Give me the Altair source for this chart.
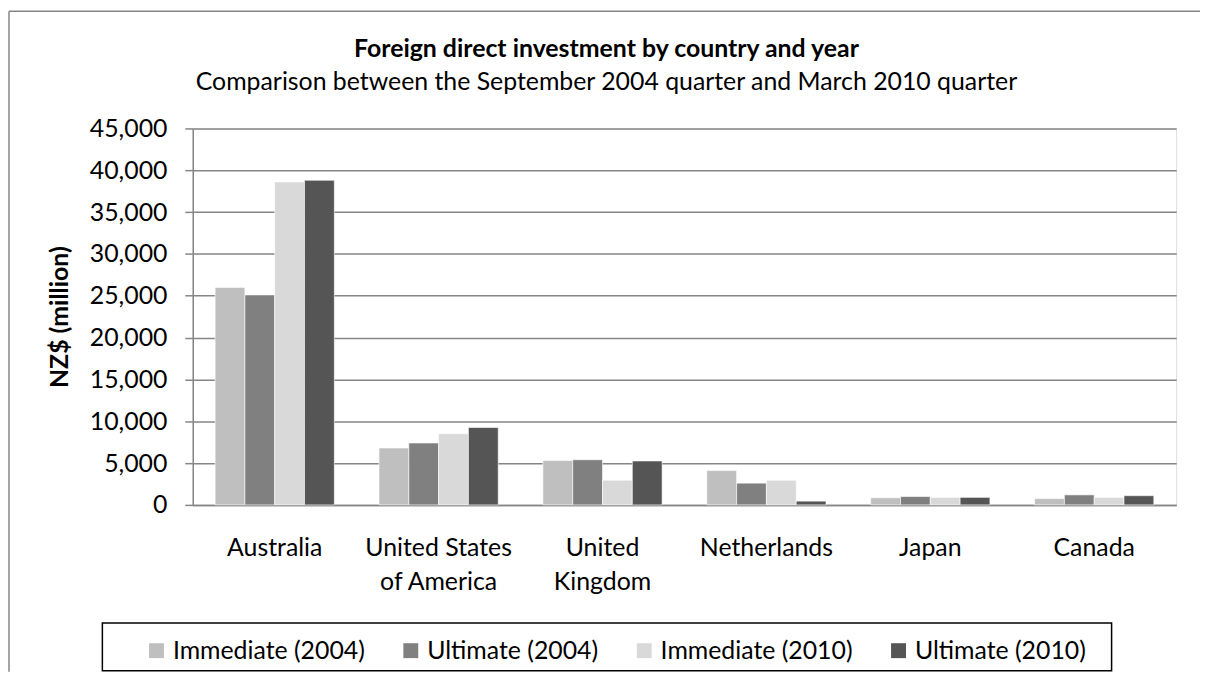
import altair as alt
import pandas as pd

countries = ["Australia", "United States of America", "United Kingdom",
             "Netherlands", "Japan", "Canada"]
series = ["Immediate (2004)", "Ultimate (2004)", "Immediate (2010)", "Ultimate (2010)"]
immediate_2004 = [26000, 6800, 5300, 4100, 850, 750]
ultimate_2004 = [25100, 7400, 5400, 2600, 1000, 1200]
immediate_2010 = [38600, 8500, 2950, 2950, 900, 900]
ultimate_2010 = [38800, 9250, 5250, 450, 900, 1100]
y_ticks = [0, 5000, 10000, 15000, 20000, 25000, 30000, 35000, 40000, 45000]
colors = ["#BFBFBF", "#808080", "#D9D9D9", "#555555"]
title_text = "Foreign direct investment by country and year"
subtitle_text = "Comparison between  the September 2004 quarter and March 2010 quarter"

rows = []
for s, vals in zip(series, [immediate_2004, ultimate_2004, immediate_2010, ultimate_2010]):
    for c, v in zip(countries, vals):
        rows.append({"country": c, "series": s, "value": v})
df = pd.DataFrame(rows)

FONT = "Lato"
GRAY = "#868686"
FS = 25

label_expr = ("datum.value == 'United States of America' ? ['United States', 'of America'] : "
              "datum.value == 'United Kingdom' ? ['United', 'Kingdom'] : datum.value")

bars = alt.Chart(df).mark_bar(stroke="white", strokeWidth=0.6).encode(
    x=alt.X("country:N", sort=countries,
            scale=alt.Scale(paddingInner=0.2727, paddingOuter=0.1364),
            axis=alt.Axis(title=None, labelExpr=label_expr, labelAngle=0,
                          labelFont=FONT, labelFontSize=FS, labelColor="black",
                          labelPadding=31, labelLineHeight=34, labelBaseline="top",
                          labelLimit=400,
                          ticks=False, grid=False, domainColor=GRAY, domainWidth=1.5)),
    xOffset=alt.XOffset("series:N", sort=series,
                        scale=alt.Scale(paddingInner=0, paddingOuter=0)),
    y=alt.Y("value:Q", scale=alt.Scale(domain=[0, 45000], nice=False),
            axis=alt.Axis(values=y_ticks, format=",.0f", title="NZ$ (million)",
                          titleFont=FONT, titleFontSize=FS, titleFontWeight="bold",
                          titleColor="black", titleX=-134, titleY=189.5, titleAngle=-90,
                          titleAlign="center", titleBaseline="middle",
                          labelFont=FONT, labelFontSize=FS, labelColor="black",
                          labelPadding=18, tickSize=8, tickColor=GRAY, tickWidth=1.5,
                          domainColor=GRAY, domainWidth=1.5,
                          grid=True, gridColor=GRAY, gridWidth=1.5)),
    color=alt.Color("series:N", sort=series,
                    scale=alt.Scale(domain=series, range=colors),
                    legend=alt.Legend(title=None, orient="none", legendX=-49, legendY=513,
                                      direction="horizontal", symbolType="square",
                                      symbolSize=225, symbolStrokeWidth=0,
                                      labelFont=FONT, labelFontSize=FS, labelColor="black",
                                      labelOffset=4, columnPadding=33, padding=0,
                                      gridAlign="each", labelLimit=400)),
)

legend_box = alt.Chart(alt.Data(values=[{}])).mark_rect(
    fillOpacity=0, stroke="black", strokeWidth=1.5
).encode(x=alt.value(-91), x2=alt.value(925), y=alt.value(498), y2=alt.value(546))

border_top = alt.Chart(alt.Data(values=[{}])).mark_rule(
    stroke=GRAY, strokeWidth=1.5
).encode(x=alt.value(-185), x2=alt.value(1014), y=alt.value(-118))

border_left = alt.Chart(alt.Data(values=[{}])).mark_rule(
    stroke=GRAY, strokeWidth=1.5
).encode(x=alt.value(-185), y=alt.value(-118), y2=alt.value(547))

title_mark = alt.Chart(alt.Data(values=[{"t": title_text}])).mark_text(
    font=FONT, fontSize=FS, fontWeight="bold", color="black",
    align="center", baseline="middle"
).encode(text="t:N", x=alt.value(416.5), y=alt.value(-80))

subtitle_mark = alt.Chart(alt.Data(values=[{"t": subtitle_text}])).mark_text(
    font=FONT, fontSize=FS, color="black", align="center", baseline="middle"
).encode(text="t:N", x=alt.value(416.5), y=alt.value(-47))

chart = alt.layer(border_top, border_left, bars, legend_box, title_mark, subtitle_mark).properties(
    width=990, height=379,
    autosize=alt.AutoSizeParams(type="none"),
    padding={"left": 186, "top": 119, "right": 24, "bottom": 168},
).configure_view(stroke=None).configure(background="white")

chart.save("out.html", embed_options={"renderer": "svg", "actions": False})
